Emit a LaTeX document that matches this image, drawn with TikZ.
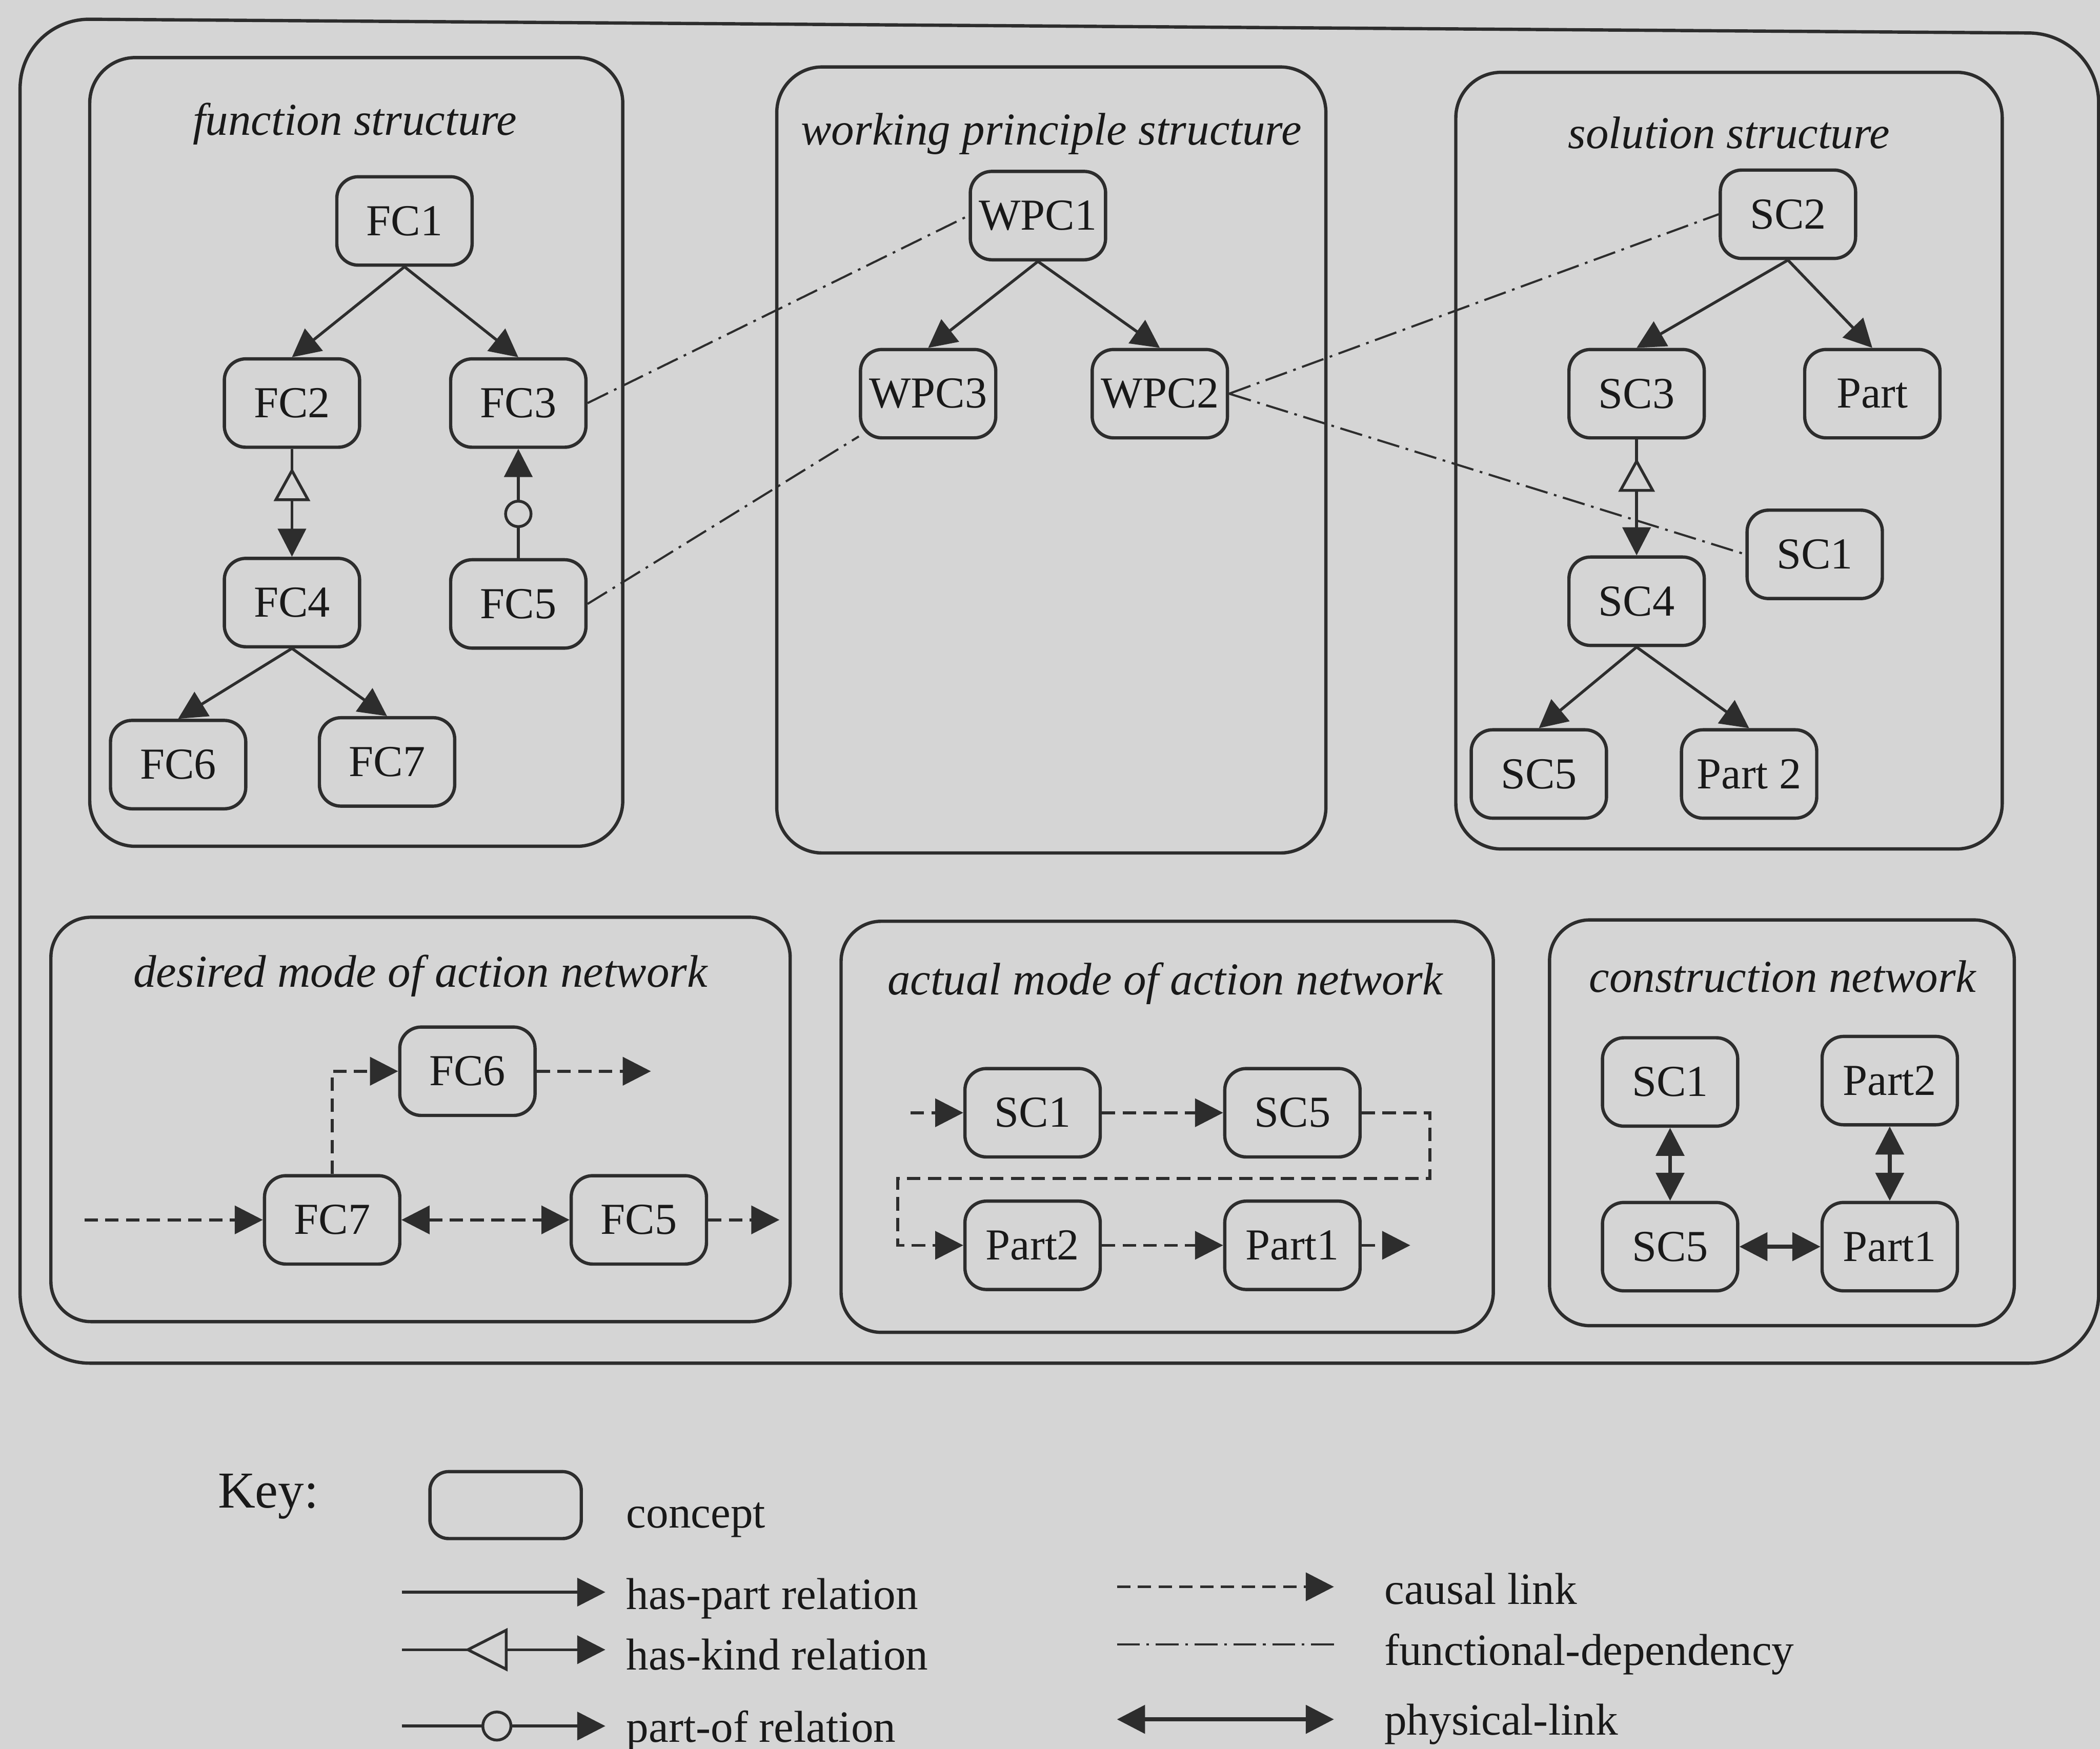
\documentclass[tikz,border=0pt]{standalone}
\usepackage{fontspec}
\setmainfont{Liberation Serif}
\usetikzlibrary{arrows.meta,calc,decorations.markings}

\definecolor{paper}{RGB}{213,213,213}
\definecolor{ink}{RGB}{45,45,45}
\definecolor{txt}{RGB}{25,25,25}

\newcommand\conceptfont{\fontsize{9.4pt}{11pt}\selectfont}
\newcommand\titlefont{\fontsize{9.7pt}{11pt}\selectfont\itshape}
\newcommand\legendfont{\fontsize{9.5pt}{11pt}\selectfont}

\tikzset{
  concept/.style={draw=ink, line width=0.7pt, rounded corners=1.6mm,
    minimum width=10.1mm, minimum height=6.6mm, inner sep=0pt,
    text=txt, font=\conceptfont},
  panel/.style={draw=ink, line width=0.7pt, rounded corners=3.4mm},
  paneltitle/.style={anchor=base, inner sep=0pt, text=txt, font=\titlefont},
  keytext/.style={anchor=base west, inner sep=0pt, text=txt, font=\legendfont},
  haspart/.style={draw=ink, line width=0.6pt, ->},
  haskind/.style={haspart, postaction={decorate},
    decoration={markings, mark=at position 1.4mm with
      {\arrowreversed{Triangle[length=2.5mm,width=2.7mm,fill=paper]}}}},
  keykind/.style={haspart, postaction={decorate},
    decoration={markings, mark=at position 4.7mm with
      {\arrowreversed{Triangle[length=3.2mm,width=3.2mm,fill=paper]}}}},
  partof/.style={haspart, postaction={decorate},
    decoration={markings, mark=at position 3.3mm with
      {\node[circle, draw=ink, line width=0.6pt, fill=paper, inner sep=0pt, minimum size=1.9mm] {};}}},
  keypartof/.style={haspart, postaction={decorate},
    decoration={markings, mark=at position 7.1mm with
      {\node[circle, draw=ink, line width=0.6pt, fill=paper, inner sep=0pt, minimum size=2.1mm] {};}}},
  causal/.style={draw=ink, line width=0.6pt, dash pattern=on 1.0mm off 0.55mm, ->},
  fdep/.style={draw=ink, line width=0.45pt, dash pattern=on 1.7mm off 0.5mm on 0.2mm off 0.5mm},
  physical/.style={draw=ink, line width=0.8pt, <->},
}

\begin{document}
\begin{tikzpicture}[x=0.1mm, y=-0.1mm, >={Triangle[length=2.1mm,width=2.1mm]}]
\useasboundingbox (0,0) rectangle (1568,1306);
\fill[paper] (0,0) rectangle (1568,1306);

% enclosing frame of the model
\draw[ink, line width=0.7pt, rounded corners=5.2mm]
  (15,1018) -- (15,14) -- (1567,25) -- (1567,1018) -- cycle;

% the six views
\draw[panel] (67,43) rectangle (465,632);
\draw[panel] (580,50) rectangle (990,637);
\draw[panel] (1087,54) rectangle (1495,634);
\draw[panel, rounded corners=3mm] (38,685) rectangle (590,987);
\draw[panel, rounded corners=3mm] (628,688) rectangle (1115,995);
\draw[panel, rounded corners=3mm] (1157,687) rectangle (1504,990);

\node[paneltitle] (tFunc) at (265,101)  {function structure};
\node[paneltitle] (tWork) at (785,108) {working principle structure};
\node[paneltitle] (tSol)  at (1291,111) {solution structure};
\node[paneltitle] (tDes)  at (314,737) {desired mode of action network};
\node[paneltitle] (tAct)  at (870,743) {actual mode of action network};
\node[paneltitle] (tCon)  at (1331,741) {construction network};

% function structure
\node[concept] (f1) at (302,165) {FC1};
\node[concept] (f2) at (218,301) {FC2};
\node[concept] (f3) at (387,301) {FC3};
\node[concept] (f4) at (218,450) {FC4};
\node[concept] (f5) at (387,451) {FC5};
\node[concept] (f6) at (133,571) {FC6};
\node[concept] (f7) at (289,569) {FC7};
\draw[haspart] (f1.south) -- (f2.north);
\draw[haspart] (f1.south) -- (f3.north);
\draw[haskind] (f2.south) -- (f4.north);
\draw[partof]  (f5.north) -- (f3.south);
\draw[haspart] (f4.south) -- (f6.north);
\draw[haspart] (f4.south) -- (f7.north);

% working principle structure
\node[concept] (w1) at (775,161) {WPC1};
\node[concept] (w3) at (693,294) {WPC3};
\node[concept] (w2) at (866,294) {WPC2};
\draw[haspart] (w1.south) -- (w3.north);
\draw[haspart] (w1.south) -- (w2.north);

% solution structure
\node[concept] (s2) at (1335,160) {SC2};
\node[concept] (s3) at (1222,294) {SC3};
\node[concept] (sPart) at (1398,294) {Part};
\node[concept] (s1) at (1355,414) {SC1};
\node[concept] (s4) at (1222,449) {SC4};
\node[concept] (s5) at (1149,578) {SC5};
\node[concept] (sPart2) at (1306,578) {Part 2};
\draw[haspart] (s2.south) -- (s3.north);
\draw[haspart] (s2.south) -- (sPart.north);
\draw[haskind] (s3.south) -- (s4.north);
\draw[haspart] (s4.south) -- (s5.north);
\draw[haspart] (s4.south) -- (sPart2.north);

% functional dependencies between the structures
\draw[fdep] (f3.east) -- (w1.west);
\draw[fdep] (f5.east) -- (w3);
\draw[fdep] (w2.east) -- (s2.west);
\draw[fdep] (w2.east) -- (s1.west);

% desired mode of action network
\node[concept] (dFC6) at (349,800) {FC6};
\node[concept] (dFC7) at (248,911) {FC7};
\node[concept] (dFC5) at (477,911) {FC5};
\coordinate (dIn) at (63,911);
\coordinate (dOut6) at (486,800);
\coordinate (dOut5) at (582,911);
\draw[causal] (dIn) -- (dFC7.west);
\draw[causal] (dFC7.north) |- (dFC6.west);
\draw[causal] (dFC6.east) -- (dOut6);
\draw[causal, <->] (dFC7.east) -- (dFC5.west);
\draw[causal] (dFC5.east) -- (dOut5);

% actual mode of action network
\node[concept] (aSC1) at (771,831) {SC1};
\node[concept] (aSC5) at (965,831) {SC5};
\node[concept] (aPart2) at (771,930) {Part2};
\node[concept] (aPart1) at (965,930) {Part1};
\coordinate (aIn) at (680,831);
\coordinate (aOut) at (1053,930);
\draw[causal] (aIn) -- (aSC1.west);
\draw[causal] (aSC1.east) -- (aSC5.west);
\draw[causal] (aSC5.east) -| ($(aSC5.east)+(51,49)$) -| ($(aPart2.west)+(-49,0)$) -- (aPart2.west);
\draw[causal] (aPart2.east) -- (aPart1.west);
\draw[causal] (aPart1.east) -- (aOut);

% construction network
\node[concept] (cSC1) at (1247,808) {SC1};
\node[concept] (cPart2) at (1411,807) {Part2};
\node[concept] (cSC5) at (1247,931) {SC5};
\node[concept] (cPart1) at (1411,931) {Part1};
\draw[physical] (cSC1.south) -- (cSC5.north);
\draw[physical] (cPart2.south) -- (cPart1.north);
\draw[physical] (cSC5.east) -- (cPart1.west);

% key
\node[anchor=base west, inner sep=0pt, text=txt, font=\fontsize{11pt}{13pt}\selectfont] (kKey) at (162,1126) {Key:};
\node[concept, minimum width=11.3mm, minimum height=5mm, rounded corners=1.4mm] (kConcept) at (377.5,1124) {};
\node[keytext] (kConceptT) at (467,1141) {concept};

\coordinate (kPa1) at (300,1189);
\coordinate (kPa2) at (452,1189);
\draw[haspart] (kPa1) -- (kPa2);
\node[keytext] (kPaT) at (467,1202) {has-part relation};

\coordinate (kKi1) at (300,1232);
\coordinate (kKi2) at (452,1232);
\draw[keykind] (kKi1) -- (kKi2);
\node[keytext] (kKiT) at (467,1247) {has-kind relation};

\coordinate (kPo1) at (300,1289);
\coordinate (kPo2) at (452,1289);
\draw[keypartof] (kPo1) -- (kPo2);
\node[keytext] (kPoT) at (467,1301) {part-of relation};

\coordinate (kCa1) at (834,1185);
\coordinate (kCa2) at (996,1185);
\draw[causal] (kCa1) -- (kCa2);
\node[keytext] (kCaT) at (1033,1198) {causal link};

\coordinate (kFd1) at (834,1228);
\coordinate (kFd2) at (1000,1228);
\draw[fdep] (kFd1) -- (kFd2);
\node[keytext] (kFdT) at (1033,1243.5) {functional-dependency};

\coordinate (kPh1) at (834,1284);
\coordinate (kPh2) at (996,1284);
\draw[physical] (kPh1) -- (kPh2);
\node[keytext] (kPhT) at (1033,1295.5) {physical-link};
\end{tikzpicture}
\end{document}
